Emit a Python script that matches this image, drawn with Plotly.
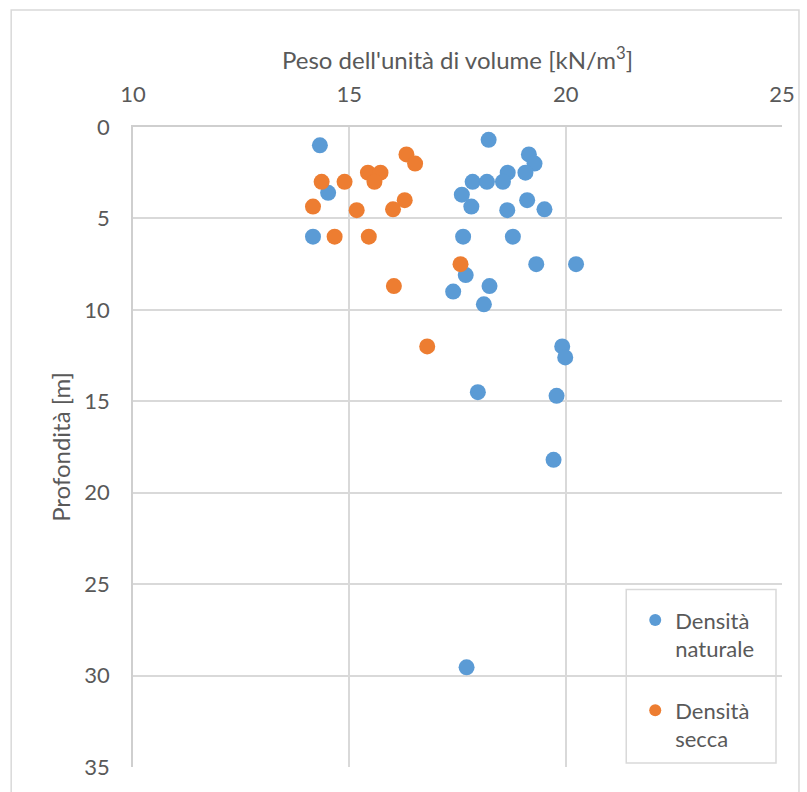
import plotly.graph_objects as go

# Densità naturale (unit weight kN/m3, depth m)
nat_gamma = [14.32, 18.22, 19.15, 19.28, 18.66, 19.07, 17.85, 18.18, 18.55, 14.51,
             17.60, 19.11, 17.82, 18.65, 19.51, 14.16, 17.63, 18.78, 19.32, 20.24,
             17.69, 18.24, 17.40, 18.11, 19.92, 19.99, 17.97, 19.79, 19.72, 17.71]
nat_depth = [1.0, 0.7, 1.5, 2.0, 2.5, 2.5, 3.0, 3.0, 3.0, 3.6,
             3.7, 4.0, 4.35, 4.55, 4.5, 6.0, 6.0, 6.0, 7.5, 7.5,
             8.1, 8.7, 9.0, 9.7, 12.0, 12.6, 14.5, 14.7, 18.2, 29.55]

# Densità secca
dry_gamma = [16.32, 16.52, 15.43, 15.72, 15.58, 14.36, 14.89, 16.28, 14.16, 15.17,
             16.01, 14.66, 15.45, 17.57, 16.03, 16.80]
dry_depth = [1.5, 2.0, 2.5, 2.5, 3.0, 3.0, 3.0, 4.0, 4.35, 4.55,
             4.5, 6.0, 6.0, 7.5, 8.7, 12.0]

x_ticks = [10, 15, 20, 25]
y_ticks = [0, 5, 10, 15, 20, 25, 30, 35]

FONT = "Lato"
GREY = "#595959"
GRID = "#D9D9D9"
TICK_SIZE = 22
TITLE_SIZE = 24

fig = go.Figure()
fig.add_trace(go.Scatter(x=nat_gamma, y=nat_depth, mode="markers",
                         name="Densità<br>naturale", legendgroup="nat",
                         marker=dict(color="#5B9BD5", size=16)))
fig.add_trace(go.Scatter(x=dry_gamma, y=dry_depth, mode="markers",
                         name="Densità<br>secca", legendgroup="dry",
                         marker=dict(color="#ED7D31", size=16)))

W, H = 807, 792
L, R, T, B = 133, 24, 127, 20
pw, ph = W - L - R, H - T - B

def px2paper_x(px):
    return (px - L) / pw

def px2paper_y(py):
    return (H - B - py) / ph

fig.update_layout(
    width=W, height=H,
    margin=dict(l=L, r=R, t=T, b=B),
    paper_bgcolor="white", plot_bgcolor="white",
    font=dict(family=FONT, size=TICK_SIZE, color=GREY),
    showlegend=True,
    legend=dict(x=px2paper_x(636), y=px2paper_y(603), xanchor="left", yanchor="top",
                bgcolor="rgba(0,0,0,0)", borderwidth=0, valign="top",
                font=dict(family=FONT, size=TICK_SIZE, color=GREY),
                tracegroupgap=30, itemsizing="constant"),
    xaxis=dict(side="top", range=[10, 25], tickvals=x_ticks,
               showgrid=True, gridcolor=GRID, gridwidth=1.5,
               showline=True, linecolor="#CFCFCF", linewidth=1.5,
               zeroline=False, ticks="", ticklabelstandoff=14,
               tickfont=dict(family=FONT, size=TICK_SIZE, color=GREY),
               title=dict(text="Peso dell'unità di volume [kN/m<sup>3</sup>]",
                          standoff=4, font=dict(family=FONT, size=TITLE_SIZE, color=GREY))),
    yaxis=dict(range=[35, 0], tickvals=y_ticks,
               showgrid=True, gridcolor=GRID, gridwidth=1.5,
               showline=True, linecolor="#CFCFCF", linewidth=1.5,
               zeroline=False, ticks="", ticklabelstandoff=17,
               tickfont=dict(family=FONT, size=TICK_SIZE, color=GREY),
               title=dict(text="Profondità [m]", standoff=7,
                          font=dict(family=FONT, size=TITLE_SIZE, color=GREY))),
    shapes=[
        dict(type="rect", xref="paper", yref="paper",
             x0=px2paper_x(11), x1=px2paper_x(800), y0=px2paper_y(9), y1=px2paper_y(800),
             line=dict(color=GRID, width=1.5), fillcolor="rgba(0,0,0,0)", layer="below"),
        dict(type="rect", xref="paper", yref="paper",
             x0=px2paper_x(627), x1=px2paper_x(777), y0=px2paper_y(593), y1=px2paper_y(768),
             line=dict(color=GRID, width=1.5), fillcolor="white", layer="below"),
    ],
)

fig.write_html("out.html")
